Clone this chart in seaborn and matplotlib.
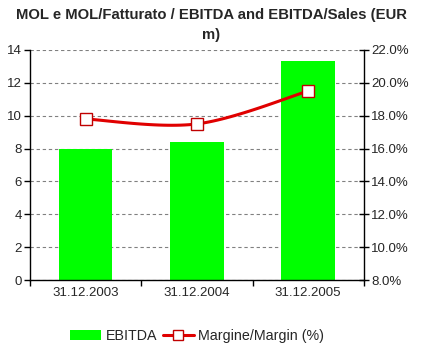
import numpy as np
import pandas as pd
import seaborn as sns
import matplotlib.pyplot as plt
from matplotlib.lines import Line2D
from matplotlib.patches import Patch
from matplotlib.ticker import FuncFormatter, FixedLocator

# chart data
dates = ['31.12.2003', '31.12.2004', '31.12.2005']
ebitda = [8.0, 8.4, 13.3]
margin = [17.8, 17.5, 19.5]

sns.set_theme(style='white')
plt.rcParams['font.family'] = ['Liberation Sans', 'DejaVu Sans']

df = pd.DataFrame({'date': dates, 'ebitda': ebitda, 'margin': margin})

fig = plt.figure(figsize=(4.23, 3.52), dpi=100)
ax = fig.add_axes([0.071, 0.2045, 0.789, 0.6535])

sns.barplot(data=df, x='date', y='ebitda', color='#00ff00', saturation=1,
            width=0.48, linewidth=0, ax=ax)
ax.set_ylim(0, 14)
ax.set_xlim(-0.5, 2.5)
ax.set_yticks(range(0, 15, 2))
ax.set_xlabel('')
ax.set_ylabel('')
ax.yaxis.grid(True, linestyle=(0, (3, 2.5)), color='#808080', linewidth=0.8)
ax.set_axisbelow(True)
for s in ['top', 'right']:
    ax.spines[s].set_visible(False)
for s in ['left', 'bottom']:
    ax.spines[s].set_color('black')
    ax.spines[s].set_linewidth(1)
ax.tick_params(axis='y', direction='out', length=4, width=1, color='black',
               labelsize=9.5, pad=2, left=True)
ax.tick_params(axis='x', length=0, labelsize=9.5, pad=5)
ax.xaxis.set_minor_locator(FixedLocator([-0.5, 0.5, 1.5, 2.5]))
ax.tick_params(axis='x', which='minor', direction='out', length=4, width=1,
               color='black', bottom=True)

ax2 = ax.twinx()
ax2.set_ylim(8, 22)
ax2.set_yticks(np.arange(8, 22.1, 2))
ax2.yaxis.set_major_formatter(FuncFormatter(lambda v, p: f'{v:.1f}%'))
ax2.tick_params(axis='y', direction='inout', length=7, width=1, color='black',
                labelsize=9.5, pad=2, right=True)
for s in ['top', 'left', 'bottom']:
    ax2.spines[s].set_visible(False)
ax2.spines['right'].set_color('black')
ax2.spines['right'].set_linewidth(1)

# smoothed line through the points (Catmull-Rom, like Excel's smooth line)
xs = np.arange(len(margin), dtype=float)
ys = np.array(margin, dtype=float)
px = np.concatenate([[xs[0]], xs, [xs[-1]]])
py = np.concatenate([[ys[0]], ys, [ys[-1]]])
cx, cy = [], []
t = np.linspace(0, 1, 30)
for i in range(1, len(px) - 2):
    p0, p1, p2, p3 = [np.array([px[j], py[j]]) for j in range(i - 1, i + 3)]
    b1 = p1 + (p2 - p0) / 6
    b2 = p2 - (p3 - p1) / 6
    seg = ((1 - t) ** 3)[:, None] * p1 + (3 * (1 - t) ** 2 * t)[:, None] * b1 \
        + (3 * (1 - t) * t ** 2)[:, None] * b2 + (t ** 3)[:, None] * p2
    cx.extend(seg[:, 0])
    cy.extend(seg[:, 1])
ax2.plot(cx, cy, color='#e00000', linewidth=2.2, zorder=3)
ax2.plot(xs, ys, linestyle='none', marker='s', markersize=8,
         markerfacecolor='white', markeredgecolor='#c00000',
         markeredgewidth=1, zorder=4)

fig.suptitle('MOL e MOL/Fatturato / EBITDA and EBITDA/Sales (EUR\nm)',
             fontsize=10.7, fontweight='bold', y=0.978, linespacing=1.6)

handles = [Patch(facecolor='#00ff00', edgecolor='none'),
           Line2D([0], [0], color='#e00000', linewidth=2.2, marker='s',
                  markersize=6.5, markerfacecolor='white',
                  markeredgecolor='#c00000')]
fig.legend(handles, ['EBITDA', 'Margine/Margin (%)'], loc='lower center',
           bbox_to_anchor=(0.466, -0.01), ncol=2, frameon=False, fontsize=10.3,
           handlelength=2.2, handletextpad=0.3, columnspacing=0.4)

fig.savefig('out.png', dpi=100)
